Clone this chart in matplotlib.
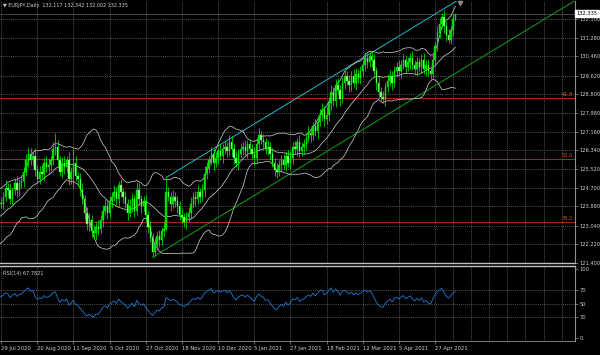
import numpy as np
import matplotlib
matplotlib.use('Agg')
import matplotlib.pyplot as plt
import matplotlib.transforms as mtransforms

# closes before the first visible bar (only feed the indicators)
pre_closes = [122.5, 122.8, 122.4, 122.9, 123.2, 122.8, 122.6, 123.0, 123.4, 123.1,
              123.6, 123.3, 123.8, 124.2, 124.0, 124.4, 124.1, 123.8, 124.3, 124.0]

# daily closes, 29 Jul 2020 .. 10 May 2021
closes = [
    124.0, 124.3, 124.7, 124.6, 124.2, 124.6, 124.9, 124.6, 124.9, 125.0,
    125.4, 125.9, 126.2, 125.9, 126.1, 125.5, 125.1, 125.4, 125.3, 125.8,
    125.6, 125.7, 125.9, 126.4, 126.5, 125.9, 125.4, 125.8, 125.6, 125.9,
    125.1, 125.4, 125.8, 125.2, 125.1, 124.6, 124.2, 123.6, 123.1, 123.3,
    122.8, 122.7, 123.0, 122.9, 123.3, 123.7, 123.9, 123.6, 124.1, 124.3,
    124.5, 124.2, 124.8, 124.5, 124.3, 124.0, 123.6, 123.9, 124.2, 123.7,
    124.6, 124.2, 123.9, 124.1, 123.5, 123.0, 122.5, 121.9, 122.2, 122.6,
    122.4, 122.8, 122.9, 124.5, 124.3, 124.0, 124.3, 124.1, 123.9, 123.5,
    123.4, 123.2, 123.4, 123.6, 124.0, 124.3, 124.2, 124.5, 124.3, 124.6,
    125.3, 125.6, 125.9, 126.2, 125.8, 126.0, 126.3, 126.1, 126.4, 126.5,
    126.3, 126.7, 126.4, 126.0, 125.8, 126.2, 126.4, 126.5, 126.3, 126.6,
    126.4, 126.2, 126.0, 126.6, 127.0, 126.8, 126.7, 126.4, 126.5, 126.2,
    125.8, 125.5, 125.4, 125.7, 125.9, 125.7, 126.1, 125.8, 126.0, 126.5,
    126.4, 126.7, 126.3, 126.5, 126.6, 126.9, 127.1, 127.0, 127.4, 127.2,
    127.6, 127.9, 128.1, 127.7, 127.9, 128.4, 128.9, 128.5, 129.2, 129.0,
    128.6, 129.3, 129.6, 129.4, 129.2, 129.6, 129.3, 129.7, 129.5, 129.8,
    130.1, 130.4, 130.2, 130.5, 130.3, 129.8, 129.3, 128.9, 128.7, 128.6,
    129.1, 129.4, 129.6, 129.3, 129.8, 130.0, 129.8, 130.1, 130.3, 130.0,
    130.2, 130.4, 130.1, 129.9, 130.2, 130.0, 130.3, 129.9, 130.1, 129.8,
    129.7, 130.3, 130.9, 131.5, 131.9, 132.2, 131.8, 131.4, 131.2, 131.6,
    132.117, 132.335,
]

# wick length above / below the body
up_wick = [
    0.25, 0.2, 0.35, 0.2, 0.3, 0.15, 0.25, 0.3, 0.2, 0.25,
    0.2, 0.3, 0.3, 0.25, 0.2, 0.35, 0.2, 0.25, 0.3, 0.2,
    0.3, 0.25, 0.2, 0.3, 0.6, 0.3, 0.2, 0.25, 0.3, 0.2,
    0.35, 0.2, 0.6, 0.3, 0.2, 0.25, 0.3, 0.2, 0.25, 0.3,
    0.2, 0.25, 0.2, 0.3, 0.2, 0.25, 0.3, 0.2, 0.25, 0.2,
    0.3, 0.25, 0.2, 0.3, 0.2, 0.25, 0.2, 0.3, 0.25, 0.2,
    0.35, 0.3, 0.2, 0.25, 0.3, 0.2, 0.25, 0.2, 0.3, 0.2,
    0.25, 0.2, 0.3, 0.65, 0.25, 0.2, 0.3, 0.2, 0.25, 0.2,
    0.3, 0.2, 0.25, 0.2, 0.3, 0.2, 0.25, 0.3, 0.2, 0.25,
    0.35, 0.25, 0.2, 0.3, 0.2, 0.25, 0.2, 0.3, 0.2, 0.25,
    0.2, 0.3, 0.25, 0.2, 0.3, 0.2, 0.25, 0.2, 0.3, 0.2,
    0.25, 0.2, 0.3, 0.25, 0.3, 0.2, 0.25, 0.2, 0.3, 0.2,
    0.25, 0.2, 0.3, 0.2, 0.25, 0.3, 0.2, 0.25, 0.3, 0.2,
    0.25, 0.2, 0.3, 0.2, 0.25, 0.2, 0.3, 0.25, 0.2, 0.3,
    0.2, 0.25, 0.3, 0.2, 0.35, 0.25, 0.3, 0.2, 0.25, 0.3,
    0.2, 0.25, 0.3, 0.2, 0.25, 0.2, 0.3, 0.25, 0.2, 0.25,
    0.2, 0.25, 0.2, 0.15, 0.2, 0.25, 0.2, 0.3, 0.2, 0.25,
    0.2, 0.3, 0.25, 0.2, 0.25, 0.2, 0.3, 0.2, 0.25, 0.2,
    0.25, 0.2, 0.3, 0.2, 0.25, 0.2, 0.25, 0.3, 0.2, 0.25,
    0.2, 0.25, 0.2, 0.3, 0.25, 0.15, 0.3, 0.2, 0.25, 0.2,
    0.2, 0.007,
]
dn_wick = [
    0.2, 0.25, 0.2, 0.3, 0.2, 0.25, 0.2, 0.3, 0.25, 0.2,
    0.25, 0.2, 0.3, 0.2, 0.25, 0.3, 0.2, 0.25, 0.2, 0.3,
    0.2, 0.3, 0.25, 0.2, 0.25, 0.3, 0.2, 0.25, 0.3, 0.2,
    0.3, 0.25, 0.7, 0.2, 0.3, 0.25, 0.2, 0.3, 0.25, 0.3,
    0.25, 0.2, 0.3, 0.25, 0.2, 0.3, 0.2, 0.25, 0.2, 0.3,
    0.2, 0.25, 0.3, 0.2, 0.25, 0.2, 0.3, 0.2, 0.25, 0.3,
    0.2, 0.25, 0.3, 0.2, 0.25, 0.3, 0.2, 0.25, 0.2, 0.25,
    0.3, 0.2, 0.25, 0.1, 0.2, 0.3, 0.2, 0.25, 0.3, 0.2,
    0.25, 0.2, 0.3, 0.2, 0.25, 0.2, 0.3, 0.2, 0.25, 0.2,
    0.3, 0.2, 0.25, 0.2, 0.3, 0.2, 0.25, 0.2, 0.3, 0.2,
    0.25, 0.2, 0.3, 0.25, 0.2, 0.3, 0.2, 0.25, 0.2, 0.3,
    0.2, 0.25, 0.3, 0.2, 0.25, 0.2, 0.3, 0.2, 0.25, 0.3,
    0.2, 0.3, 0.25, 0.2, 0.3, 0.2, 0.25, 0.2, 0.3, 0.25,
    0.2, 0.3, 0.25, 0.2, 0.3, 0.25, 0.2, 0.3, 0.2, 0.25,
    0.3, 0.2, 0.25, 0.3, 0.2, 0.25, 0.3, 0.2, 0.25, 0.2,
    0.3, 0.2, 0.25, 0.2, 0.3, 0.25, 0.2, 0.3, 0.2, 0.25,
    0.2, 0.3, 0.25, 0.2, 0.3, 0.2, 0.3, 0.25, 0.2, 0.2,
    0.3, 0.2, 0.25, 0.3, 0.2, 0.25, 0.2, 0.3, 0.2, 0.25,
    0.2, 0.3, 0.25, 0.2, 0.3, 0.2, 0.25, 0.2, 0.3, 0.2,
    0.25, 0.2, 0.3, 0.2, 0.25, 0.2, 0.3, 0.25, 0.15, 0.2,
    0.25, 0.115,
]

date_labels = ['29 Jul 2020', '20 Aug 2020', '11 Sep 2020', '5 Oct 2020', '27 Oct 2020',
               '18 Nov 2020', '10 Dec 2020', '5 Jan 2021', '27 Jan 2021', '18 Feb 2021',
               '12 Mar 2021', '5 Apr 2021', '27 Apr 2021']
date_bars = [0, 16, 32, 48, 64, 80, 96, 112, 128, 144, 160, 176, 192]
future_grid = [200, 208, 216, 224, 232, 240, 248]

price_ticks = [121.400, 122.220, 123.040, 123.880, 124.700, 125.520, 126.340,
               127.160, 127.980, 128.800, 129.620, 130.460, 131.280, 132.100]
rsi_ticks = [0, 30, 50, 70, 100]

fib_names = ['38.2', '50.0', '61.8']
fib_prices = [123.20, 125.96, 128.64]

# equidistant channel: base line through two bars, upper line parallel from bar 73
base_line = [(67, 121.65), (201, 129.72)]
upper_start = (73, 125.15)

title = '\u25bc EURJPY,Daily  132.117 132.342 132.002 132.335'
rsi_title = 'RSI(14) 67.7821'

BG = 'black'
GRID = '#6e6e6e'
TXT = '#d0d0d0'

allc = np.array(pre_closes + closes)
n_pre = len(pre_closes)
c = np.array(closes)
o = np.r_[allc[n_pre - 1], c[:-1]]
hi = np.maximum(o, c) + np.array(up_wick)
lo = np.minimum(o, c) - np.array(dn_wick)
x = np.arange(len(c))
xa = np.arange(len(allc)) - n_pre

# bollinger bands 20, 2
mid = np.full(len(allc), np.nan)
sd = np.full(len(allc), np.nan)
for i in range(19, len(allc)):
    w = allc[i - 19:i + 1]
    mid[i] = w.mean()
    sd[i] = w.std()
upper = mid + 2 * sd
lower = mid - 2 * sd

# rsi 14 (wilder)
d = np.diff(allc)
g = np.where(d > 0, d, 0.0)
l = np.where(d < 0, -d, 0.0)
rsi = np.full(len(allc), np.nan)
ag = g[:14].mean()
al = l[:14].mean()
rsi[14] = 100 - 100 / (1 + ag / al)
for i in range(14, len(d)):
    ag = (ag * 13 + g[i]) / 14
    al = (al * 13 + l[i]) / 14
    rsi[i + 1] = 100 - 100 / (1 + ag / al)

fig = plt.figure(figsize=(6, 3.55), dpi=100, facecolor=BG)
W, H = 600.0, 355.0
ax = fig.add_axes([0, 1 - 263 / H, 575 / W, 262 / H], facecolor=BG)
ax2 = fig.add_axes([0, 1 - 341 / H, 575 / W, 75 / H], facecolor=BG, sharex=ax)

xmax = 575 / 2.26 - 0.5
ax.set_xlim(-0.5, xmax)
ax.set_ylim(121.4, 121.4 + 262 / 22.8)
ax2.set_ylim(-4.3, 104.3)

for a in (ax, ax2):
    for s in a.spines.values():
        s.set_visible(False)
    a.spines['right'].set_visible(True)
    a.spines['right'].set_color('#909090')
    a.spines['right'].set_linewidth(0.8)
    a.yaxis.tick_right()
    a.tick_params(axis='y', colors='#909090', labelcolor=TXT, labelsize=3.7,
                  length=2, width=0.5, pad=1.5)
    for b in date_bars + future_grid:
        a.axvline(b, color=GRID, lw=0.5, ls=(0, (1.5, 1.5)), zorder=0)

ax.spines['bottom'].set_visible(True)
ax.spines['bottom'].set_color('#c0c0c0')
ax.spines['bottom'].set_linewidth(1.0)
ax2.spines['top'].set_visible(True)
ax2.spines['top'].set_color('#c0c0c0')
ax2.spines['top'].set_linewidth(1.0)
ax2.spines['bottom'].set_visible(True)
ax2.spines['bottom'].set_color('#909090')
ax2.spines['bottom'].set_linewidth(0.6)

ax.set_yticks(price_ticks)
ax.set_yticklabels(['%.3f' % p for p in price_ticks])
for p in price_ticks[1:]:
    ax.axhline(p, color=GRID, lw=0.5, ls=(0, (1.5, 1.5)), zorder=0)

ax2.set_yticks(rsi_ticks)
ax2.set_yticklabels([str(r) for r in rsi_ticks])
for r in (30, 50, 70):
    ax2.axhline(r, color=GRID, lw=0.5, ls=(0, (1.5, 1.5)), zorder=0)

ax.tick_params(axis='x', bottom=False, labelbottom=False)
ax2.set_xticks(date_bars)
ax2.set_xticklabels(date_labels)
ax2.tick_params(axis='x', colors='#909090', labelcolor=TXT, labelsize=3.8,
                length=2, width=0.5, pad=1.5)
for t in ax2.get_xticklabels():
    t.set_ha('left')

# fibonacci levels
for name, p in zip(fib_names, fib_prices):
    ax.axhline(p, color='#a32a0e', lw=0.8, zorder=1)
    ax.text(0.997, p + 0.04, name, transform=mtransforms.blended_transform_factory(ax.transAxes, ax.transData),
            ha='right', va='bottom', fontsize=3.6, color='#e0521c', zorder=5)

# bid line
ax.axhline(c[-1], color='#505050', lw=0.6, zorder=1)

# bollinger bands
for band in (upper, mid, lower):
    ax.plot(xa, band, color='#c4c4c4', lw=0.55, zorder=3)

# candles
bull = c >= o
ax.vlines(x, lo, hi, color='#00ff00', lw=0.5, zorder=4)
body = np.maximum(np.abs(c - o), 0.02)
ax.bar(x[bull], body[bull], bottom=np.minimum(o, c)[bull], width=0.62,
       color='#00d200', edgecolor='#00ff00', linewidth=0.3, zorder=4)
ax.bar(x[~bull], body[~bull], bottom=np.minimum(o, c)[~bull], width=0.62,
       color='#a8ffa0', edgecolor='#00ff00', linewidth=0.3, zorder=4)

# channel
(bx0, by0), (bx1, by1) = base_line
slope = (by1 - by0) / (bx1 - bx0)
xr = np.array([bx0, xmax + 5])
ax.plot(xr, by0 + slope * (xr - bx0), color='#12a012', lw=0.7, zorder=2)
ux = np.array([upper_start[0], xmax + 5])
ax.plot(ux, upper_start[1] + slope * (ux - upper_start[0]), color='#1fb7c9', lw=0.7, zorder=2)

# chart shift marker
ax.plot([0.8], [0.993], marker='v', ms=3, color='#8a8a8a', transform=ax.transAxes,
        clip_on=False, zorder=6)

# current price tag
ax.text(1.003, c[-1], '%.3f' % c[-1],
        transform=mtransforms.blended_transform_factory(ax.transAxes, ax.transData),
        ha='left', va='center', fontsize=3.7, color='black', zorder=7, clip_on=False,
        bbox=dict(boxstyle='square,pad=0.25', fc='white', ec='white'))

ax.text(0.005, 0.992, title, transform=ax.transAxes, ha='left', va='top',
        fontsize=3.5, color=TXT)

# rsi
ax2.plot(xa, rsi, color='#1e7ad6', lw=0.6, zorder=3)
ax2.text(0.005, 0.93, rsi_title, transform=ax2.transAxes, ha='left', va='top',
         fontsize=3.6, color=TXT)

fig.savefig('out.png', dpi=100, facecolor=BG)
